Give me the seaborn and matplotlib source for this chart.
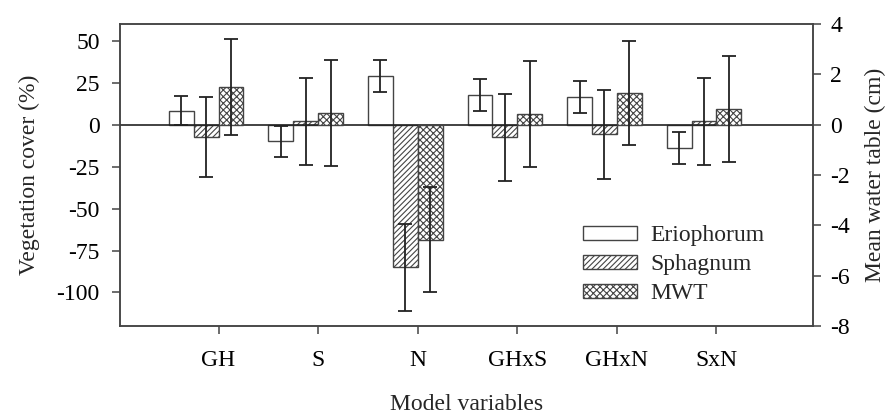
from matplotlib import pyplot as plt
from matplotlib.patches import Patch
import seaborn as sns
import pandas as pd
import numpy as np

# ---- data ----
variables = ['GH', 'S', 'N', 'GHxS', 'GHxN', 'SxN']
erio_mean = [8.3, -10.0, 29.0, 17.5, 16.3, -13.7]
erio_err = [8.6, 9.4, 9.3, 9.5, 9.6, 9.5]
sphag_mean = [-7.2, 2.0, -85.0, -7.5, -5.8, 2.0]
sphag_err = [23.9, 26.0, 26.0, 26.0, 26.3, 26.0]
mwt_mean = [1.5, 0.47, -4.57, 0.42, 1.26, 0.62]      # cm, right axis
mwt_err = [1.92, 2.1, 2.08, 2.1, 2.08, 2.09]
groups = ['Eriophorum', 'Sphagnum', 'MWT']
hatches = ['', '//////', 'xxxxx']

sns.set_style('ticks')
plt.rcParams['font.family'] = ['Liberation Serif', 'DejaVu Serif']
plt.rcParams['hatch.linewidth'] = 0.8
plt.rcParams['axes.unicode_minus'] = False

FS = 17
edge = '#444444'
bar_w = 0.25
pos = np.arange(len(variables))
# four slots per tick (last one empty), three series drawn
offs = (np.arange(3) - 1.5) * bar_w

fig = plt.figure(figsize=(8.92, 4.16), dpi=100)
ax = fig.add_axes([0.1345, 0.2163, 0.777, 0.726])
ax2 = ax.twinx()

series = [(erio_mean, erio_err, ax), (sphag_mean, sphag_err, ax), (mwt_mean, mwt_err, ax2)]
for i, (mean, err, a) in enumerate(series):
    d = pd.DataFrame({'x': pos + offs[i], 'value': mean})
    sns.barplot(data=d, x='x', y='value', native_scale=True, width=bar_w,
                color='white', edgecolor=edge, linewidth=1, errorbar=None, ax=a)
    for p in a.containers[-1].patches:
        p.set_hatch(hatches[i])
    a.errorbar(pos + offs[i], mean, yerr=err, fmt='none', ecolor='#222222',
               elinewidth=1.3, capsize=5.2, capthick=1.3)

ax.axhline(0, color='#222222', lw=1.2, zorder=5)

ax.set_ylim(-120, 60)
ax.set_yticks([50, 25, 0, -25, -50, -75, -100])
ax2.set_ylim(-8, 4)
ax2.set_yticks([4, 2, 0, -2, -4, -6, -8])
ax.set_xticks(pos)
ax.set_xticklabels(variables)
ax.set_xlim(-0.99, 5.97)

ax.set_xlabel('Model variables', fontsize=FS, labelpad=16)
ax.set_ylabel('Vegetation cover (%)', fontsize=FS, labelpad=12)
ax2.set_ylabel('Mean water table (cm)', fontsize=FS, labelpad=10.5)
ax2.set_xlabel('')

for a in [ax, ax2]:
    for s in a.spines.values():
        s.set_color(edge)
        s.set_linewidth(1.1)
    a.tick_params(colors=edge, labelcolor='black', labelsize=FS,
                  direction='out', length=5.5, width=1.1)
ax.tick_params(axis='y', pad=9)
ax.tick_params(axis='x', pad=12)
ax2.tick_params(axis='y', pad=7)

handles = [Patch(facecolor='white', edgecolor=edge, hatch=h, label=g)
           for g, h in zip(groups, hatches)]
ax2.legend(handles=handles, loc='upper left', bbox_to_anchor=(0.668, 0.334),
           frameon=False, fontsize=FS, handlelength=2.29, handleheight=0.57,
           labelspacing=0.34, handletextpad=0.55, borderpad=0, borderaxespad=0)

fig.savefig('out.png', dpi=100)
